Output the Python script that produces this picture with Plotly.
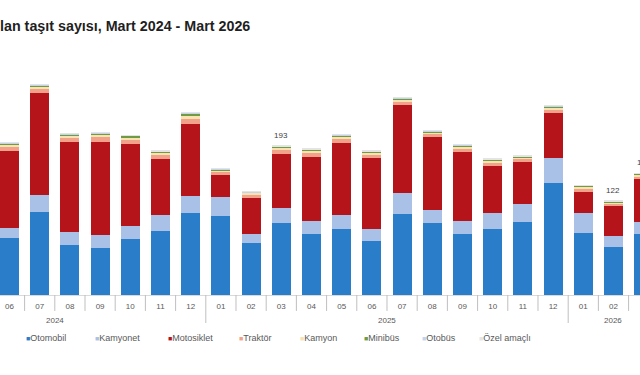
import plotly.graph_objects as go

# ---- data (thousands of vehicles) ----
periods = ["2024-06", "2024-07", "2024-08", "2024-09", "2024-10", "2024-11", "2024-12",
           "2025-01", "2025-02", "2025-03", "2025-04", "2025-05", "2025-06", "2025-07",
           "2025-08", "2025-09", "2025-10", "2025-11", "2025-12",
           "2026-01", "2026-02", "2026-03"]
month_labels = ["06", "07", "08", "09", "10", "11", "12",
                "01", "02", "03", "04", "05", "06", "07", "08", "09", "10", "11", "12",
                "01", "02", "03"]
years = ["2024", "2025", "2026"]

otomobil   = [74.2, 107.1, 64.8, 61.3, 72.9, 82.9, 106.6, 102.7, 67.4, 93.3, 79.0, 85.5, 70.3, 105.3, 93.3, 79.0, 85.9, 94.9, 145.5, 79.9, 62.5, 79.0]
kamyonet   = [12.2, 22.4, 17.2, 16.5, 16.8, 20.3, 21.6, 24.2, 12.0, 19.0, 16.5, 17.7, 15.2, 26.4, 17.2, 16.8, 20.3, 22.5, 31.6, 25.9, 14.0, 15.9]
motosiklet = [100.1, 131.7, 116.2, 120.5, 105.8, 72.9, 93.3, 28.5, 46.2, 70.3, 82.9, 93.3, 91.6, 114.8, 94.6, 89.0, 61.3, 54.4, 58.3, 27.2, 38.3, 55.3]
traktor    = [5.0, 5.5, 5.2, 5.8, 5.4, 4.9, 7.0, 3.6, 3.9, 4.8, 5.1, 5.4, 4.3, 4.1, 3.5, 4.5, 3.9, 3.8, 4.4, 4.1, 3.2, 3.5]
kamyon     = [3.2, 3.6, 3.4, 3.8, 3.5, 3.3, 4.6, 2.6, 2.7, 3.1, 3.3, 3.5, 2.9, 2.8, 2.4, 3.0, 2.7, 2.6, 3.0, 2.8, 2.2, 2.4]
minibus    = [1.4, 1.6, 1.5, 1.7, 1.6, 1.5, 2.1, 1.1, 1.2, 1.4, 1.5, 1.6, 1.3, 1.3, 1.1, 1.3, 1.2, 1.2, 1.4, 1.3, 1.0, 1.1]
otobus     = [0.8, 0.8, 0.8, 0.8, 0.8, 0.7, 1.0, 0.6, 0.6, 0.7, 0.8, 0.8, 0.7, 0.6, 0.5, 0.7, 0.6, 0.6, 0.7, 0.6, 0.5, 0.5]
ozel       = [0.4, 0.5, 0.4, 0.5, 0.4, 0.4, 0.5, 0.3, 0.3, 0.4, 0.4, 0.4, 0.3, 0.3, 0.3, 0.3, 0.3, 0.3, 0.3, 0.3, 0.3, 0.3]
labelled_periods = ["2025-03", "2026-02", "2026-03"]

series_names = ["Otomobil", "Kamyonet", "Motosiklet", "Traktör", "Kamyon", "Minibüs", "Otobüs", "Özel amaçlı"]
series_vals = [otomobil, kamyonet, motosiklet, traktor, kamyon, minibus, otobus, ozel]
colors = ["#2A7DC9", "#A9C1E6", "#B5141B", "#F2A28A", "#F7E2B0", "#6F9B45", "#C3D3EA", "#E4E4E4"]

title_text = "Trafiğe kaydı yapılan taşıt sayısı, Mart 2024 - Mart 2026"

X_RANGE = [-0.3146, 20.878]
PX_PER_CAT = 640 / (X_RANGE[1] - X_RANGE[0])

fig = go.Figure()
for name, vals, col in zip(series_names, series_vals, colors):
    fig.add_trace(go.Bar(x=periods, y=vals, name=name, marker_color=col,
                         marker_line_width=0, width=0.63, showlegend=False))

totals = [sum(v) for v in zip(*series_vals)]

annotations = []
# value labels
for p in labelled_periods:
    i = periods.index(p)
    ax = min(i, X_RANGE[1] - 0.01)
    annotations.append(dict(x=ax, y=totals[i], xref="x", yref="y", text=f"{round(totals[i])}",
                            showarrow=False, yanchor="bottom", yshift=4,
                            xshift=(i - ax) * PX_PER_CAT,
                            font=dict(size=8, color="#404040", family="Liberation Sans, Arial")))

# year labels
year_pos = [1.5, 12.5, 20.0]
for y, xp in zip(years, year_pos):
    annotations.append(dict(x=xp, y=-0.085, xref="x", yref="paper", text=y, showarrow=False,
                            yanchor="middle", font=dict(size=8, color="#595959", family="Liberation Sans, Arial")))

# title
annotations.append(dict(x=252 / 640, y=(295 - 26) / 295, xref="paper", yref="paper", text=f"<b>{title_text}</b>",
                        showarrow=False, xanchor="right", yanchor="middle",
                        font=dict(size=14.3, color="#1F1F1F", family="Liberation Sans, Arial")))

# legend built from annotations
legend_x = [24, 93, 166, 237, 298, 362, 420, 477]
for name, col, lx in zip(series_names, colors, legend_x):
    annotations.append(dict(x=lx / 640, y=(295 - 338) / 295, xref="paper", yref="paper",
                            text=f"<span style='color:{col};font-size:7px'>■</span>{name}",
                            showarrow=False, xanchor="left", yanchor="middle",
                            font=dict(size=9, color="#595959", family="Liberation Sans, Arial")))

# separators between categories
shapes = []
for i in range(-1, len(periods)):
    year_break = (i + 1 < len(periods) and i >= 0 and month_labels[i] == "12")
    shapes.append(dict(type="line", xref="x", yref="paper", x0=i + 0.5, x1=i + 0.5,
                       y0=0, y1=-0.095 if year_break else -0.054,
                       line=dict(color="#BFBFBF", width=1)))

fig.update_layout(
    width=640, height=375,
    margin=dict(l=0, r=0, t=0, b=80),
    barmode="stack",
    plot_bgcolor="white", paper_bgcolor="white",
    annotations=annotations, shapes=shapes,
    xaxis=dict(type="category", range=X_RANGE, tickmode="array",
               tickvals=list(range(len(periods))), ticktext=month_labels,
               showgrid=False, showline=True, linecolor="#D9D9D9", linewidth=1,
               ticks="", ticklabelstandoff=3,
               tickfont=dict(size=8, color="#595959", family="Liberation Sans, Arial")),
    yaxis=dict(range=[0, 382.1], visible=False, showgrid=False),
)

fig.write_html("out.html", config={"displayModeBar": False},
               post_script="document.body.style.margin='0';document.body.style.overflow='hidden';")
